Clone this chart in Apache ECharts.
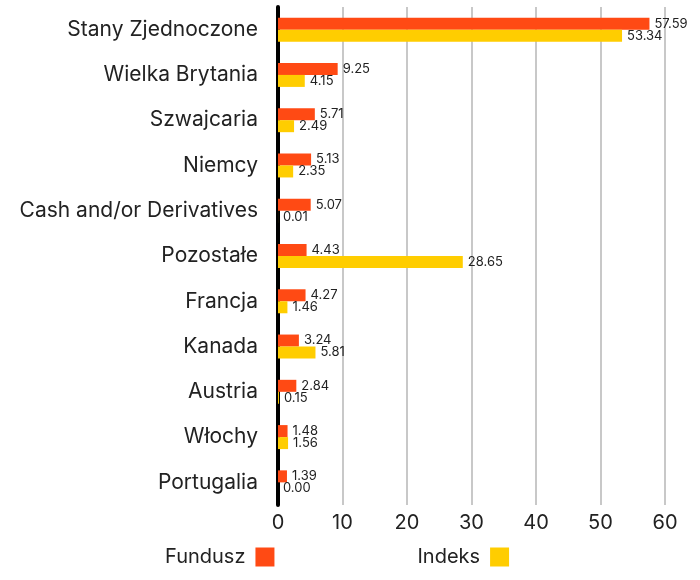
<!DOCTYPE html>
<html>
<head>
<meta charset="utf-8">
<script src="https://cdn.jsdelivr.net/npm/echarts@6/dist/echarts.min.js"></script>
<style>
  html, body { margin: 0; padding: 0; background: #fff; }
  #chart { width: 700px; height: 580px; }
</style>
</head>
<body>
<div id="chart"></div>
<script>
// kraje / kategorie
var categories = ['Stany Zjednoczone', 'Wielka Brytania', 'Szwajcaria', 'Niemcy',
  'Cash and/or Derivatives', 'Pozostałe', 'Francja', 'Kanada', 'Austria', 'Włochy', 'Portugalia'];
var funduszData = [57.59, 9.25, 5.71, 5.13, 5.07, 4.43, 4.27, 3.24, 2.84, 1.48, 1.39];
var indeksData = [53.34, 4.15, 2.49, 2.35, 0.01, 28.65, 1.46, 5.81, 0.15, 1.56, 0.00];

var FONT = 'Inter, "Noto Sans", sans-serif';

var chart = echarts.init(document.getElementById('chart'));

var labelOpt = {
  show: true,
  position: 'right',
  distance: 5,
  fontSize: 13,
  fontFamily: FONT,
  color: '#222',
  formatter: function (p) { return p.value.toFixed(2); }
};

var option = {
  animation: false,
  grid: { left: 278, right: 35, top: 7, bottom: 75 },
  legend: {
    bottom: 8,
    left: 160,
    align: 'right',
    itemWidth: 19,
    itemHeight: 19,
    itemGap: 143,
    icon: 'rect',
    textStyle: { fontSize: 20, fontFamily: FONT, color: '#222', padding: [0, 5, 0, 0] },
    data: ['Fundusz', 'Indeks']
  },
  xAxis: {
    type: 'value',
    min: 0,
    max: 60,
    interval: 10,
    axisLine: { show: false },
    axisTick: { show: false },
    splitLine: { show: true, lineStyle: { color: '#c8c8c8', width: 2 } },
    axisLabel: { fontSize: 20, fontFamily: FONT, color: '#222', margin: 8 }
  },
  yAxis: {
    type: 'category',
    inverse: true,
    data: categories,
    axisLine: { show: true, lineStyle: { color: '#000', width: 4 } },
    axisTick: { show: false },
    axisLabel: { fontSize: 21, fontFamily: FONT, color: '#222', margin: 20 }
  },
  series: [
    {
      name: 'Fundusz',
      type: 'bar',
      barWidth: 12,
      barGap: 0,
      itemStyle: { color: '#ff4a14' },
      label: labelOpt,
      data: funduszData
    },
    {
      name: 'Indeks',
      type: 'bar',
      barWidth: 12,
      barGap: 0,
      itemStyle: { color: '#ffcd00' },
      label: labelOpt,
      data: indeksData
    }
  ]
};
chart.setOption(option);
</script>
</body>
</html>
